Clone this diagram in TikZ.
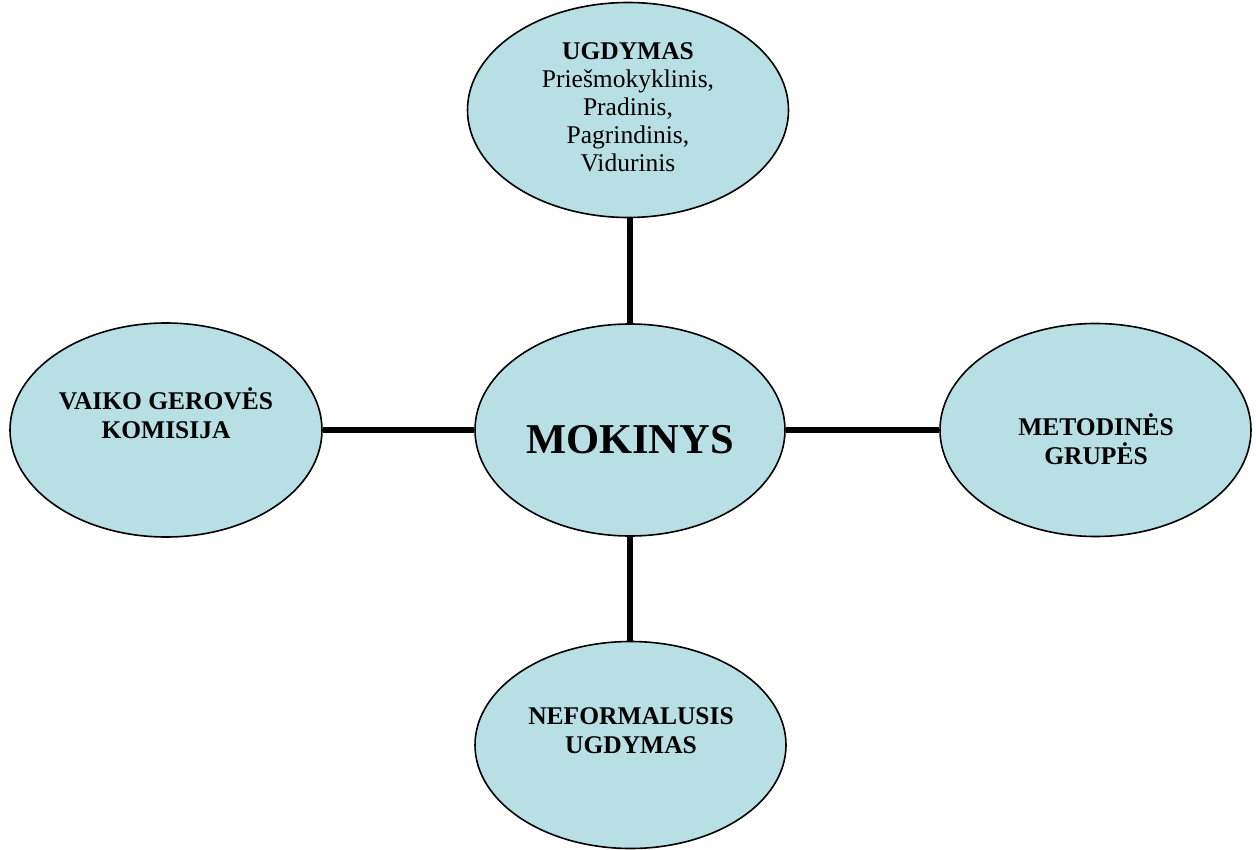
\documentclass[tikz,border=0pt]{standalone}
\usepackage{fontspec}
\setmainfont{Liberation Serif}
\usetikzlibrary{shapes.geometric}
\definecolor{bubble}{RGB}{184,224,228}
\tikzset{
  bub/.style={ellipse, draw=black, line width=1.6pt, fill=bubble, inner sep=0pt},
  lbl/.style={align=center, font=\fontsize{25.5}{28.5}\selectfont\bfseries, inner sep=0pt},
  conn/.style={line width=5.5pt}
}
\begin{document}
\begin{tikzpicture}[x=1pt,y=-1pt]
\useasboundingbox (0,0) rectangle (1256,850);
\node[bub, minimum width=310pt, minimum height=212pt] (c) at (630,430) {};
\node[bub, minimum width=321pt, minimum height=215pt] (t) at (628,110) {};
\node[bub, minimum width=312pt, minimum height=214pt] (l) at (166,430) {};
\node[bub, minimum width=311pt, minimum height=213pt] (r) at (1095.5,430) {};
\node[bub, minimum width=311pt, minimum height=207pt] (b) at (630.5,745) {};
\begin{scope}[on background layer/.style={}]
\draw[conn] (c.north) -- (t.south -| c.north);
\draw[conn] (c.west) -- (l.east);
\draw[conn] (c.east) -- (r.west);
\draw[conn] (c.south) -- (b.north -| c.south);
\end{scope}
\node[lbl, font=\fontsize{42.5}{50}\selectfont\bfseries, anchor=base] (ct) at (630,453) {MOKINYS};
\node[lbl, font=\fontsize{25.5}{28}\selectfont, anchor=base] (tt) at (628,172)
  {\textbf{UGDYMAS}\\Priešmokyklinis,\\Pradinis,\\Pagrindinis,\\Vidurinis};
\node[lbl, anchor=base] (lt) at (166,438) {VAIKO GEROVĖS\\KOMISIJA};
\node[lbl, anchor=base] (rt) at (1096,464) {METODINĖS\\GRUPĖS};
\node[lbl, anchor=base] (bt) at (631,753) {NEFORMALUSIS\\UGDYMAS};
\end{tikzpicture}
\end{document}
